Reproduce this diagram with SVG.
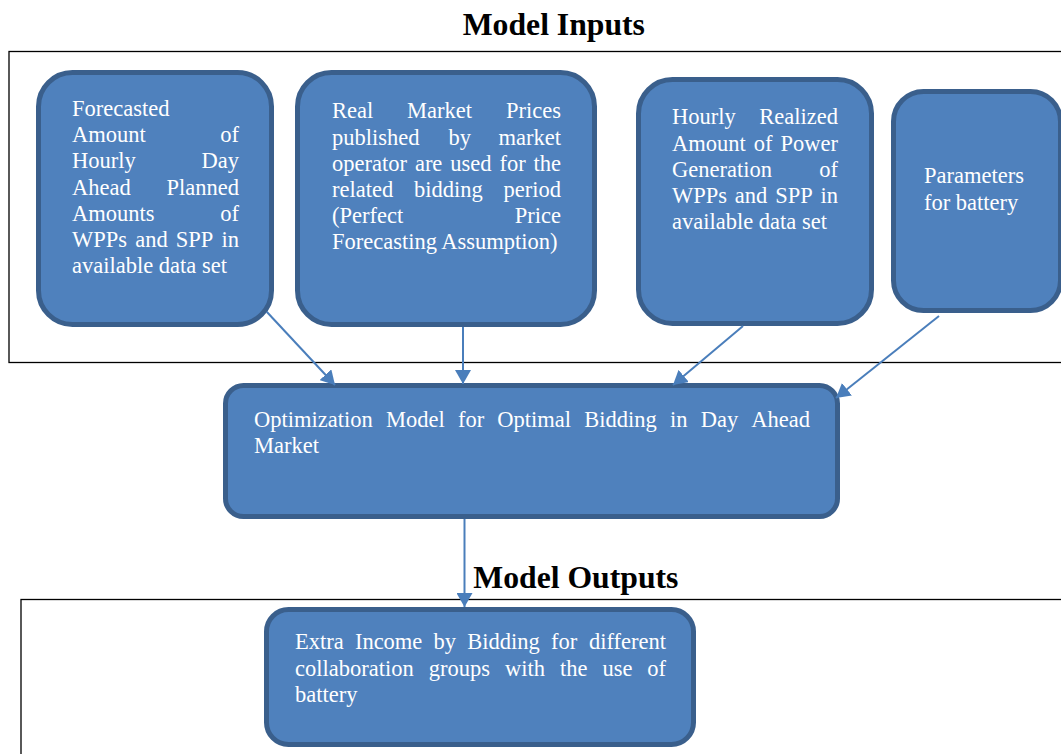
<svg xmlns="http://www.w3.org/2000/svg" width="1061" height="754" viewBox="0 0 1061 754">
<defs>
<style>
.frame{fill:none;stroke:#000;stroke-width:1.3}
.node{fill:#4f81bd;stroke:#3a5f8c;stroke-width:5}
.t{font-family:"Liberation Serif","Times New Roman",serif;font-size:22.5px;fill:#ffffff}
.title{font-family:"Liberation Serif","Times New Roman",serif;font-size:31.7px;font-weight:bold;fill:#000}
.conn{stroke:#4a7ebb;stroke-width:2;fill:none;marker-end:url(#arr)}
</style>
<marker id="arr" viewBox="0 0 14 16" markerWidth="14" markerHeight="16" markerUnits="userSpaceOnUse" refX="14" refY="8" orient="auto">
<path d="M0,0 L14,8 L0,16 z" fill="#4a7ebb"/>
</marker>
</defs>
<rect width="1061" height="754" fill="#fff"/>

<g id="frames">
<rect class="frame" x="9" y="51.5" width="1070" height="311"/>
<rect class="frame" x="21" y="599.5" width="1060" height="170"/>
<text class="title" x="462.7" y="35">Model Inputs</text>
<text class="title" x="473.3" y="587.5">Model Outputs</text>
</g>

<g id="node-forecast">
<rect class="node" x="38.5" y="72.5" width="233" height="252" rx="34"/>
<text class="t" x="72" y="116">Forecasted</text>
<text class="t" y="142.2"><tspan x="72">Amount</tspan><tspan x="239" text-anchor="end">of</tspan></text>
<text class="t" y="168.4"><tspan x="72">Hourly</tspan><tspan x="239" text-anchor="end">Day</tspan></text>
<text class="t" y="194.6"><tspan x="72">Ahead</tspan><tspan x="239" text-anchor="end">Planned</tspan></text>
<text class="t" y="220.8"><tspan x="72">Amounts</tspan><tspan x="239" text-anchor="end">of</tspan></text>
<text class="t" y="247"><tspan x="72">WPPs</tspan><tspan x="135.2">and</tspan><tspan x="175.8">SPP</tspan><tspan x="239" text-anchor="end">in</tspan></text>
<text class="t" x="72" y="273.2">available data set</text>
</g>

<g id="node-prices">
<rect class="node" x="297.5" y="72.5" width="297" height="252" rx="34"/>
<text class="t" y="118.3"><tspan x="332">Real</tspan><tspan x="407.1">Market</tspan><tspan x="561" text-anchor="end">Prices</tspan></text>
<text class="t" y="144.5"><tspan x="332">published</tspan><tspan x="448.5">by</tspan><tspan x="561" text-anchor="end">market</tspan></text>
<text class="t" y="170.7"><tspan x="332">operator</tspan><tspan x="414.9">are</tspan><tspan x="450.3">used</tspan><tspan x="499.4">for</tspan><tspan x="561" text-anchor="end">the</tspan></text>
<text class="t" y="196.9"><tspan x="332">related</tspan><tspan x="414">bidding</tspan><tspan x="561" text-anchor="end">period</tspan></text>
<text class="t" y="223.1"><tspan x="332">(Perfect</tspan><tspan x="561" text-anchor="end">Price</tspan></text>
<text class="t" x="332" y="249.3">Forecasting Assumption)</text>
</g>

<g id="node-realized">
<rect class="node" x="638.5" y="79.5" width="233" height="244" rx="34"/>
<text class="t" y="124.3"><tspan x="672">Hourly</tspan><tspan x="838" text-anchor="end">Realized</tspan></text>
<text class="t" y="150.5"><tspan x="672">Amount</tspan><tspan x="753.8">of</tspan><tspan x="838" text-anchor="end">Power</tspan></text>
<text class="t" y="176.7"><tspan x="672">Generation</tspan><tspan x="838" text-anchor="end">of</tspan></text>
<text class="t" y="202.9"><tspan x="672">WPPs</tspan><tspan x="734.8">and</tspan><tspan x="775.2">SPP</tspan><tspan x="838" text-anchor="end">in</tspan></text>
<text class="t" x="672" y="229.1">available data set</text>
</g>

<g id="node-battery">
<rect class="node" x="893.5" y="91.5" width="167" height="219" rx="30"/>
<text class="t" x="924" y="183.3">Parameters</text>
<text class="t" x="924" y="209.5">for battery</text>
</g>

<g id="node-model">
<rect class="node" x="225.5" y="385.5" width="612" height="131" rx="18"/>
<text class="t" y="427.3"><tspan x="254">Optimization</tspan><tspan x="386">Model</tspan><tspan x="457.9">for</tspan><tspan x="497.3">Optimal</tspan><tspan x="584.3">Bidding</tspan><tspan x="670">in</tspan><tspan x="700.7">Day</tspan><tspan x="810" text-anchor="end">Ahead</tspan></text>
<text class="t" x="254" y="452.7">Market</text>
</g>

<g id="node-output">
<rect class="node" x="266.5" y="609.5" width="427" height="135" rx="22"/>
<text class="t" y="649.3"><tspan x="295">Extra</tspan><tspan x="354.9">Income</tspan><tspan x="433.6">by</tspan><tspan x="467.3">Bidding</tspan><tspan x="551">for</tspan><tspan x="666" text-anchor="end">different</tspan></text>
<text class="t" y="675.7"><tspan x="295">collaboration</tspan><tspan x="428.8">groups</tspan><tspan x="505">with</tspan><tspan x="560">the</tspan><tspan x="602.5">use</tspan><tspan x="666" text-anchor="end">of</tspan></text>
<text class="t" x="295" y="701.7">battery</text>
</g>

<g id="connectors">
<line class="conn" x1="266.7" y1="311.7" x2="335" y2="385"/>
<line class="conn" x1="463" y1="327" x2="463" y2="384"/>
<line class="conn" x1="743" y1="326" x2="673" y2="385"/>
<line class="conn" x1="939" y1="316" x2="836" y2="398"/>
<line class="conn" x1="464.5" y1="519" x2="464.5" y2="607"/>
</g>
</svg>
